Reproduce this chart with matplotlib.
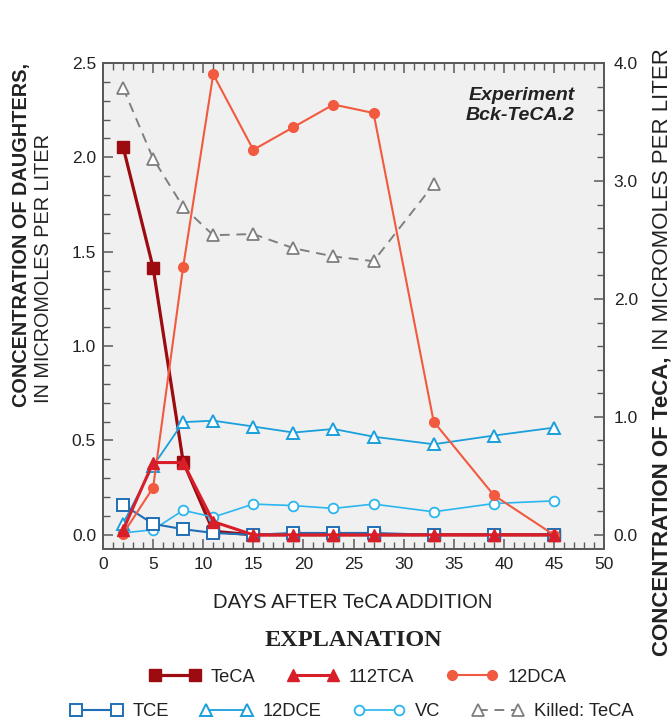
import matplotlib
matplotlib.use("Agg")
import matplotlib.pyplot as plt
from matplotlib.ticker import MultipleLocator, FormatStrFormatter

plt.rcParams["font.family"] = ["Liberation Sans", "DejaVu Sans"]

# Sampling days (days after TeCA addition)
days = [2, 5, 8, 11, 15, 19, 23, 27, 33, 39, 45]
killed_days = [2, 5, 8, 11, 15, 19, 23, 27, 33]

# TeCA, micromoles per liter (right axis)
teca = [3.29, 2.265, 0.62, 0.03, 0.0, 0.0, 0.0, 0.0, 0.0, 0.0, 0.0]
killed_teca = [3.79, 3.19, 2.78, 2.54, 2.55, 2.43, 2.36, 2.32, 2.97]

# Daughter products, micromoles per liter (left axis)
tca112 = [0.025, 0.383, 0.383, 0.07, 0.0, 0.0, 0.0, 0.0, 0.0, 0.0, 0.0]
dca12 = [0.005, 0.25, 1.42, 2.44, 2.04, 2.16, 2.28, 2.235, 0.60, 0.21, 0.0]
tce = [0.16, 0.058, 0.03, 0.01, 0.0, 0.01, 0.01, 0.01, 0.0, 0.0, 0.0]
dce12 = [0.06, 0.365, 0.597, 0.605, 0.574, 0.542, 0.561, 0.52, 0.48, 0.526, 0.568]
vc = [0.01, 0.027, 0.13, 0.094, 0.163, 0.155, 0.14, 0.163, 0.122, 0.166, 0.18]

C_TECA = "#9b0b10"
C_TCA = "#d81e28"
C_DCA = "#f25a40"
C_TCE = "#1f6fb6"
C_DCE = "#1a9fdc"
C_VC = "#2ab6ef"
C_KILL = "#7f7f7f"
C_SPINE = "#5a5a5a"
C_TEXT = "#222222"

fig = plt.figure(figsize=(6.72, 7.23), dpi=100)
ax1 = fig.add_axes([103 / 672, 1 - 549 / 723, 501 / 672, 486 / 723])
ax2 = ax1.twinx()

# daughters drawn above the TeCA axis
ax1.set_zorder(ax2.get_zorder() + 1)
ax1.patch.set_visible(False)
ax2.patch.set_visible(True)
ax2.patch.set_facecolor("#f0f0f0")

# TeCA series on the right axis
l_kill, = ax2.plot(killed_days, killed_teca, color=C_KILL, lw=1.4, ls=(0, (5, 3.5)),
                   marker="^", ms=8.5, mfc="white", mec=C_KILL, mew=1.3)
l_teca, = ax2.plot(days, teca, color=C_TECA, lw=2.3, marker="s", ms=8,
                   mfc=C_TECA, mec=C_TECA)

# daughter series on the left axis
l_vc, = ax1.plot(days, vc, color=C_VC, lw=1.2, marker="o", ms=7,
                 mfc="white", mec=C_VC, mew=1.3)
l_dce, = ax1.plot(days, dce12, color=C_DCE, lw=1.3, marker="^", ms=8.5,
                  mfc="white", mec=C_DCE, mew=1.4)
l_tce, = ax1.plot(days, tce, color=C_TCE, lw=1.5, marker="s", ms=8,
                  mfc="white", mec=C_TCE, mew=1.4)
l_dca, = ax1.plot(days, dca12, color=C_DCA, lw=1.5, marker="o", ms=7,
                  mfc=C_DCA, mec=C_DCA)
l_tca, = ax1.plot(days, tca112, color=C_TCA, lw=2.2, marker="^", ms=8.5,
                  mfc=C_TCA, mec=C_TCA)

ax1.set_xlim(0, 50)
ax1.set_ylim(-0.075, 2.5)
ax2.set_ylim(-0.12, 4.0)

ax1.xaxis.set_major_locator(MultipleLocator(5))
ax1.xaxis.set_minor_locator(MultipleLocator(1))
ax1.yaxis.set_major_locator(MultipleLocator(0.5))
ax1.yaxis.set_minor_locator(MultipleLocator(0.1))
ax1.yaxis.set_major_formatter(FormatStrFormatter("%.1f"))
ax2.yaxis.set_major_locator(MultipleLocator(1.0))
ax2.yaxis.set_minor_locator(MultipleLocator(0.2))
ax2.yaxis.set_major_formatter(FormatStrFormatter("%.1f"))

for ax in (ax1, ax2):
    for s in ax.spines.values():
        s.set_color(C_SPINE)
        s.set_linewidth(1.4)

ax1.tick_params(axis="x", which="both", direction="in", top=True, bottom=True,
                color=C_SPINE, labelsize=12.5, labelcolor=C_TEXT, pad=6)
ax1.tick_params(axis="y", which="both", direction="in", left=True, right=False,
                color=C_SPINE, labelsize=12.5, labelcolor=C_TEXT, pad=5)
ax2.tick_params(axis="y", which="both", direction="in", right=True, left=False,
                color=C_SPINE, labelsize=12.5, labelcolor=C_TEXT, pad=7)
for ax in (ax1, ax2):
    ax.tick_params(which="major", length=7.5, width=1.1)
    ax.tick_params(which="minor", length=5, width=1.0)

ax1.text(0.942, 0.95, "Experiment\nBck-TeCA.2", transform=ax1.transAxes,
         ha="right", va="top", fontsize=14, fontweight="bold", fontstyle="italic",
         color=C_TEXT, linespacing=1.2)

# axis titles
fig.text(353 / 672, 1 - 603 / 723, "DAYS AFTER TeCA ADDITION", ha="center",
         va="center", fontsize=14.6, color=C_TEXT)

fig.text(22 / 672, 1 - 407 / 723, "CONCENTRATION OF DAUGHTERS,",
         rotation=90, ha="center", va="bottom", fontsize=14.3,
         fontweight="bold", color=C_TEXT)
fig.text(44 / 672, 1 - 403 / 723, "IN MICROMOLES PER LITER", rotation=90,
         ha="center", va="bottom", fontsize=14.3, color=C_TEXT)

yr_b = fig.text(662 / 672, 1 - 656 / 723, "CONCENTRATION OF TeCA,", rotation=90,
                ha="center", va="bottom", fontsize=16, fontweight="bold",
                color=C_TEXT)
ax1.annotate(" IN MICROMOLES PER LITER", xy=(0.5, 1.0), xycoords=yr_b,
             rotation=90, ha="center", va="bottom", fontsize=16,
             color=C_TEXT, annotation_clip=False)

fig.text(353 / 672, 1 - 641 / 723, "EXPLANATION", ha="center", va="center",
         fontsize=17.5, fontweight="bold", family="Liberation Serif", color=C_TEXT)

leg_kw = dict(frameon=False, fontsize=13.2, handlelength=2.8, handletextpad=0.55,
              columnspacing=1.75, numpoints=2, borderpad=0.1)
leg1 = fig.legend([l_teca, l_tca, l_dca], ["TeCA", "112TCA", "12DCA"], loc="center",
                  bbox_to_anchor=(358 / 672, 1 - 677 / 723), ncol=3, **leg_kw)
leg2 = fig.legend([l_tce, l_dce, l_vc, l_kill], ["TCE", "12DCE", "VC", "Killed: TeCA"],
                  loc="center", bbox_to_anchor=(352 / 672, 1 - 712 / 723), ncol=4, **leg_kw)
for lg in (leg1, leg2):
    for t in lg.get_texts():
        t.set_color(C_TEXT)

fig.savefig("out.png", dpi=100)
